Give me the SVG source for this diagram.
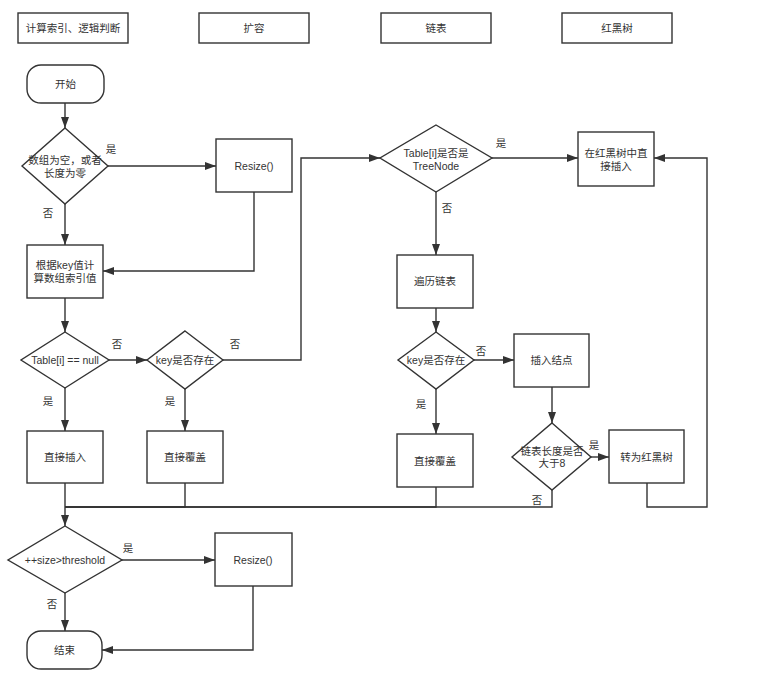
<svg xmlns="http://www.w3.org/2000/svg" width="782" height="689" viewBox="0 0 782 689">
<defs>
<marker id="arr" markerUnits="userSpaceOnUse" markerWidth="12" markerHeight="9" refX="11" refY="4" orient="auto">
<path d="M0,0 L11,4 L0,8 z" fill="#333"/>
</marker>
<style>
.n{fill:#fff;stroke:#333;stroke-width:1.4}
.t{font-family:"Liberation Sans","Noto Sans CJK SC",sans-serif;font-size:10.5px;fill:#333;text-anchor:middle;dominant-baseline:central}
.l{font-family:"Noto Sans CJK SC","Liberation Sans",sans-serif;font-size:10.5px;fill:#333;text-anchor:middle;dominant-baseline:central}
.c{fill:none;stroke:#333;stroke-width:1.4}
.a{marker-end:url(#arr)}
</style>
</defs>
<rect width="782" height="689" fill="#fff"/>
<g id="legend1"><rect class="n" x="18" y="13" width="110" height="30"/><text class="t" x="73" y="28">计算索引、逻辑判断</text></g>
<g id="legend2"><rect class="n" x="199" y="13" width="110" height="30"/><text class="t" x="254" y="28">扩容</text></g>
<g id="legend3"><rect class="n" x="381" y="13" width="110" height="30"/><text class="t" x="436" y="28">链表</text></g>
<g id="legend4"><rect class="n" x="562" y="13" width="110" height="30"/><text class="t" x="617" y="28">红黑树</text></g>

<g id="connectors">
<path class="c a" d="M65,103 L65,128"/>
<path class="c a" d="M108,166 L216,166"/>
<path class="c a" d="M65,204 L65,245"/>
<path class="c a" d="M254,192 L254,271 L103,271"/>
<path class="c a" d="M65,298 L65,332"/>
<path class="c a" d="M109,360 L147,360"/>
<path class="c a" d="M65,388 L65,431"/>
<path class="c a" d="M185,389 L185,431"/>
<path class="c a" d="M223,360 L301,360 L301,158 L380,158"/>
<path class="c a" d="M492,158 L578,158"/>
<path class="c a" d="M436,192 L436,255"/>
<path class="c a" d="M436,308 L436,332"/>
<path class="c a" d="M474,360 L514,360"/>
<path class="c a" d="M436,389 L436,434"/>
<path class="c a" d="M552,387 L552,423"/>
<path class="c a" d="M591,457 L609,457"/>
<path class="c a" d="M647,483 L647,507 L707,507 L707,158 L654,158"/>
<path class="c a" d="M65,483 L65,526"/>
<path class="c" d="M185,483 L185,507 L65,507"/>
<path class="c" d="M436,487 L436,507 L65,507"/>
<path class="c" d="M552,490 L552,507 L65,507"/>
<path class="c a" d="M122,560 L215,560"/>
<path class="c a" d="M65,593 L65,631"/>
<path class="c a" d="M253,586 L253,650 L102,650"/>
<text class="l" x="111" y="148">是</text>
<text class="l" x="48" y="212">否</text>
<text class="l" x="117" y="343">否</text>
<text class="l" x="48" y="400">是</text>
<text class="l" x="170" y="400">是</text>
<text class="l" x="235" y="343">否</text>
<text class="l" x="501" y="142">是</text>
<text class="l" x="447" y="207">否</text>
<text class="l" x="481" y="350">否</text>
<text class="l" x="421" y="403">是</text>
<text class="l" x="594" y="444">是</text>
<text class="l" x="537" y="499">否</text>
<text class="l" x="128" y="547">是</text>
<text class="l" x="52" y="603">否</text>
</g>

<g id="start"><rect class="n" x="27" y="65" width="77" height="38" rx="14"/><text class="t" x="65.5" y="84">开始</text></g>
<g id="d1"><polygon class="n" points="65,128 108,166 65,204 22,166"/><text class="t" x="65" y="160">数组为空，或者</text><text class="t" x="65" y="173">长度为零</text></g>
<g id="resize1"><rect class="n" x="216" y="139" width="76" height="53"/><text class="t" x="254" y="166">Resize()</text></g>
<g id="calc"><rect class="n" x="27" y="245" width="76" height="53"/><text class="t" x="65" y="265">根据key值计</text><text class="t" x="65" y="278">算数组索引值</text></g>
<g id="d2"><polygon class="n" points="65,332 109,360 65,388 21,360"/><text class="t" x="65" y="360">Table[i] == null</text></g>
<g id="d3"><polygon class="n" points="185,331 223,360 185,389 147,360"/><text class="t" x="185" y="360">key是否存在</text></g>
<g id="insert"><rect class="n" x="27" y="431" width="76" height="52"/><text class="t" x="65" y="457">直接插入</text></g>
<g id="cover1"><rect class="n" x="147" y="431" width="76" height="52"/><text class="t" x="185" y="457">直接覆盖</text></g>
<g id="d4"><polygon class="n" points="436,125 492,158 436,192 380,158"/><text class="t" x="436" y="153">Table[i]是否是</text><text class="t" x="436" y="166">TreeNode</text></g>
<g id="rbinsert"><rect class="n" x="578" y="132" width="76" height="54"/><text class="t" x="616" y="153">在红黑树中直</text><text class="t" x="616" y="166">接插入</text></g>
<g id="traverse"><rect class="n" x="397" y="255" width="76" height="53"/><text class="t" x="435" y="281">遍历链表</text></g>
<g id="d5"><polygon class="n" points="436,332 474,360 436,389 398,360"/><text class="t" x="436" y="360">key是否存在</text></g>
<g id="insertNode"><rect class="n" x="514" y="334" width="75" height="53"/><text class="t" x="551.5" y="360">插入结点</text></g>
<g id="d6"><polygon class="n" points="552,423 591,457 552,490 512,457"/><text class="t" x="552" y="451">链表长度是否</text><text class="t" x="552" y="463">大于8</text></g>
<g id="toRB"><rect class="n" x="609" y="430" width="75" height="53"/><text class="t" x="646.5" y="457">转为红黑树</text></g>
<g id="cover2"><rect class="n" x="397" y="434" width="76" height="53"/><text class="t" x="435" y="461">直接覆盖</text></g>
<g id="d7"><polygon class="n" points="65,526 122,560 65,593 8,560"/><text class="t" x="65" y="560">++size&gt;threshold</text></g>
<g id="resize2"><rect class="n" x="215" y="533" width="77" height="53"/><text class="t" x="253" y="560">Resize()</text></g>
<g id="end"><rect class="n" x="27" y="631" width="75" height="38" rx="14"/><text class="t" x="64.5" y="650">结束</text></g>
</svg>
